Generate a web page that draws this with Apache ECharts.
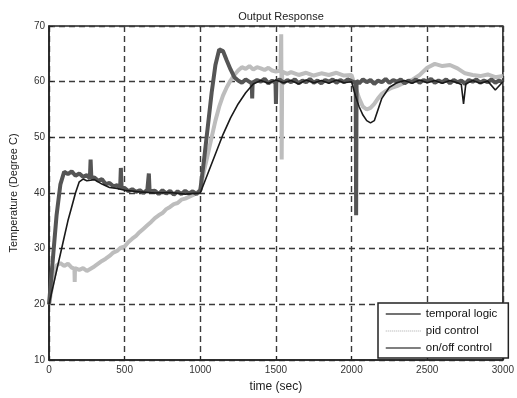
<!DOCTYPE html>
<html>
<head>
<meta charset="utf-8">
<script src="https://cdn.jsdelivr.net/npm/echarts@6/dist/echarts.min.js"></script>
<style>
  html, body { margin: 0; padding: 0; background: #fff; }
  #chart { width: 517px; height: 398px; }
</style>
</head>
<body>
<div id="chart"></div>
<script>
// Axis ticks
const timeTicks = [0, 500, 1000, 1500, 2000, 2500, 3000];
const tempTicks = [10, 20, 30, 40, 50, 60, 70];

// Measured responses: [time (sec), temperature (degree C)]
const temporalLogic = [
  [0,20],[25,23],[50,26],[75,29],[100,32],[125,35],[150,37.5],[175,40],[200,42],
  [225,42.5],[250,42.2],[300,42.4],[350,41.6],[400,41],[450,40.8],[500,40.5],
  [600,40.2],[700,40],[800,40.1],[900,39.8],[1000,40],[1050,43.5],[1100,47],
  [1150,50.5],[1200,53.5],[1250,56],[1300,58],[1350,59.6],[1400,60.2],[1450,59.7],
  [1500,60.3],[1550,59.8],[1600,60.2],[1650,59.6],[1700,60.3],[1750,59.8],[1800,60.2],
  [1850,59.7],[1900,60.3],[1950,59.8],[2000,60],[2025,57.5],[2050,55.5],[2075,54],
  [2100,53],[2125,52.6],[2150,53],[2175,55],[2200,57],[2225,58],[2250,59],[2300,59.8],
  [2350,60.2],[2400,59.7],[2450,60.3],[2500,59.8],[2550,60.2],[2600,59.7],[2650,60.2],
  [2700,59.8],[2725,59.5],[2740,56],[2755,59.6],[2800,60.2],[2850,59.7],[2900,60.1],
  [2950,58.5],[3000,60]
];

const pidControl = [
  [0,20],[25,24],[50,27],[75,27.4],[100,26.9],[125,27.3],[150,26.6],[168,26.4],[170,24],
  [172,26.5],[200,26.2],[225,26.5],[250,26],[275,26.4],[300,26.8],[325,27.3],[350,27.8],
  [375,28.2],[400,28.7],[425,29.3],[450,29.6],[475,30.2],[500,30.4],[525,31.2],[550,31.8],
  [575,32.3],[600,33],[625,33.6],[650,34.2],[675,34.8],[700,35.5],[725,36],[750,36.4],
  [775,37.1],[800,37.5],[825,38],[850,38.2],[875,38.8],[900,39],[925,39.3],[950,39.6],
  [975,40],[1000,40.5],[1025,44],[1050,47],[1075,50],[1100,53],[1125,55.5],[1150,57.5],
  [1175,59],[1200,60.2],[1225,61.2],[1250,62],[1275,62.6],[1300,62.3],[1325,62.8],
  [1350,62.2],[1375,62.6],[1400,62.4],[1425,62.1],[1450,62.5],[1475,62],[1500,61.8],
  [1530,62],[1535,68.5],[1538,46],[1541,61.8],[1575,61.4],[1600,61.7],[1650,61.2],
  [1700,61.6],[1750,61.1],[1800,61.5],[1850,61.2],[1900,61.6],[1950,61.1],[2000,61.2],
  [2025,59],[2050,57],[2075,55.5],[2100,55],[2125,55.3],[2150,56],[2175,57],[2200,57.8],
  [2225,58.3],[2250,58.7],[2275,59],[2300,59.2],[2350,59.8],[2400,60.3],[2450,61.2],
  [2500,62.5],[2550,63.2],[2600,62.8],[2650,63],[2700,62.4],[2750,61.5],[2800,61.2],
  [2850,61],[2900,61.3],[2950,60.8],[3000,61]
];

const onOffControl = [
  [0,20],[25,28],[50,36],[75,41.5],[100,43.8],[125,43.4],[150,43.9],[175,43.1],[200,43.5],
  [225,42.9],[250,43.2],[270,42.6],[275,46],[280,42.7],[300,42.8],[325,42.2],[350,42.5],
  [375,41.6],[400,41.8],[425,41.2],[450,41.4],[470,40.8],[475,44.5],[480,40.9],[500,40.9],
  [525,40.3],[550,40.7],[575,40.2],[600,40.5],[625,40],[650,40.6],[660,43.5],[665,40.3],
  [700,40.4],[725,39.8],[750,40.5],[775,39.9],[800,40.4],[825,39.7],[850,40.3],[875,39.8],
  [900,40.4],[925,39.9],[950,40.3],[975,39.8],[1000,40.5],[1025,46],[1050,52],[1075,58],
  [1100,63],[1125,65.8],[1150,65.5],[1175,63.8],[1200,62.2],[1225,60.8],[1250,60.2],
  [1275,59.8],[1300,60.4],[1340,59.7],[1343,57],[1346,59.8],[1375,60.3],[1400,60],
  [1425,60.5],[1450,59.7],[1475,60.2],[1497,59.8],[1500,56],[1503,60.1],[1525,60.4],
  [1550,59.8],[1575,60.3],[1600,59.9],[1625,60.4],[1650,59.7],[1675,60.2],[1700,59.9],
  [1725,60.5],[1750,59.8],[1775,60.2],[1800,59.7],[1825,60.3],[1850,60],[1875,60.4],
  [1900,59.8],[1925,60.3],[1950,59.9],[1975,60.4],[2000,60.1],[2027,59.8],[2030,36],
  [2033,60.2],[2050,59.7],[2075,60.4],[2100,59.9],[2125,60.3],[2150,59.6],[2175,60.2],
  [2200,59.9],[2225,60.5],[2250,59.8],[2275,60.3],[2300,60],[2325,60.4],[2350,59.7],
  [2375,60.2],[2400,59.9],[2425,60.4],[2450,59.8],[2475,60.3],[2500,60],[2525,60.5],
  [2550,59.8],[2575,60.2],[2600,59.9],[2625,60.4],[2650,59.7],[2675,60.3],[2700,59.9],
  [2725,60.2],[2750,59.6],[2775,60.3],[2800,60],[2825,60.4],[2850,59.8],[2875,60.2],
  [2900,59.9],[2925,60.4],[2950,59.8],[2975,60.2],[3000,59.9]
];

const chart = echarts.init(document.getElementById('chart'), null, { renderer: 'canvas' });
const FONT = 'Liberation Sans';
const gridLine = { show: true, lineStyle: { color: '#3a3a3a', width: 1.4, type: [6, 4] } };

chart.setOption({
  animation: false,
  backgroundColor: '#fff',
  textStyle: { fontFamily: FONT },
  title: {
    text: 'Output Response',
    left: 276, top: 6, textAlign: 'center',
    textStyle: { fontSize: 11, fontWeight: 'normal', color: '#222', fontFamily: FONT }
  },
  grid: {
    left: 45, right: 9, top: 26, bottom: 35,
    show: true, borderColor: '#222', borderWidth: 1.5, backgroundColor: '#fff'
  },
  legend: {
    show: true,
    orient: 'vertical',
    left: 378, top: 303,
    backgroundColor: '#fff',
    borderColor: '#222', borderWidth: 1.5,
    padding: [5, 11, 4, 7],
    itemGap: 5, itemWidth: 35, itemHeight: 12,
    itemStyle: { opacity: 0 },
    lineStyle: { width: 1.5 },
    textStyle: { fontSize: 11.5, color: '#111', fontFamily: FONT },
    data: [
      { name: 'temporal logic', lineStyle: { color: '#444' } },
      { name: 'pid control', lineStyle: { type: 'dotted', width: 1, color: '#aaa' } },
      { name: 'on/off control', lineStyle: { color: '#555' } }
    ],
    z: 10
  },
  xAxis: {
    type: 'value', min: 0, max: 3000, interval: 500,
    name: 'time (sec)', nameLocation: 'middle', nameGap: 21,
    nameTextStyle: { fontSize: 12, color: '#222' },
    axisLine: { show: true, lineStyle: { color: '#222', width: 1.5 } },
    axisTick: { show: true, inside: true, length: 4, lineStyle: { color: '#222' } },
    axisLabel: { fontSize: 10, color: '#333', margin: 5,
      formatter: v => timeTicks.includes(v) ? String(v) : '' },
    splitLine: gridLine
  },
  yAxis: {
    type: 'value', min: 10, max: 70, interval: 10,
    name: 'Temperature (Degree C)', nameLocation: 'middle', nameGap: 30, nameRotate: 90,
    nameTextStyle: { fontSize: 11, color: '#222' },
    axisLine: { show: true, lineStyle: { color: '#222', width: 1.5 } },
    axisTick: { show: true, inside: true, length: 4, lineStyle: { color: '#222' } },
    axisLabel: { fontSize: 10, color: '#333', margin: 4,
      formatter: v => tempTicks.includes(v) ? String(v) : '' },
    splitLine: gridLine
  },
  series: [
    {
      name: 'pid control', type: 'line', data: pidControl, symbol: 'none', z: 2,
      itemStyle: { color: '#bdbdbd' },
      lineStyle: { color: '#bdbdbd', width: 4 }
    },
    {
      name: 'on/off control', type: 'line', data: onOffControl, symbol: 'none', z: 3,
      itemStyle: { color: '#555555' },
      lineStyle: { color: '#555555', width: 4 }
    },
    {
      name: 'temporal logic', type: 'line', data: temporalLogic, symbol: 'none', z: 4,
      itemStyle: { color: '#1a1a1a' },
      lineStyle: { color: '#1a1a1a', width: 1.6 }
    }
  ]
});
</script>
</body>
</html>
